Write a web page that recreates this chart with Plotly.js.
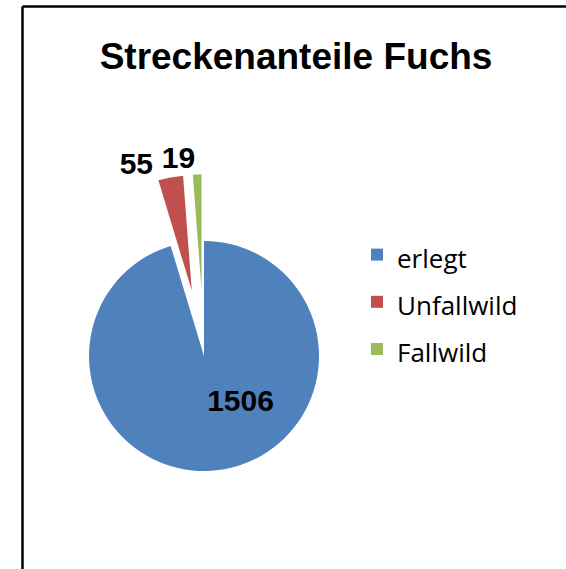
<!DOCTYPE html>
<html>
<head>
<meta charset="utf-8">
<script src="https://cdn.plot.ly/plotly-3.0.1.min.js"></script>
<style>
  html, body { margin: 0; padding: 0; background: #fff; }
  #chart { width: 566px; height: 569px; }
</style>
</head>
<body>
<div id="chart"></div>
<script>
// Streckenanteile Fuchs
var labels = ['erlegt', 'Unfallwild', 'Fallwild'];
var values = [1506, 55, 19];
var colors = ['#4F81BD', '#C0504D', '#9BBB59'];
var pulls = [0, 0.58, 0.58];

var valueFont = { family: 'Liberation Sans, Arial, sans-serif', size: 30, color: '#000', weight: 'bold' };
var pieDomain = { x: [0.0394, 0.6815], y: [0.055, 0.6937] };

// legend row height comes from legend.font.size, the text itself is smaller
var legendLabels = labels.map(function(l) {
    return '<span style="font-size:26px">' + l + '</span>';
});

// visible pie, no text
var pie = {
    type: 'pie',
    labels: legendLabels,
    values: values,
    sort: false,
    direction: 'clockwise',
    rotation: 0,
    pull: pulls,
    marker: { colors: colors, line: { width: 0 } },
    textinfo: 'none',
    domain: pieDomain,
    hoverinfo: 'label+value'
};

// transparent copies of the pie, each one carries a single value label.
// a small rotation moves the label where excel put it (and stops plotly
// from stacking the 55 and 19 on top of each other)
function labelTrace(idx, pos, rot) {
    var tp = values.map(function(v, i) { return i === idx ? pos : 'none'; });
    return {
        type: 'pie',
        labels: legendLabels,
        values: values,
        sort: false,
        direction: 'clockwise',
        rotation: rot,
        pull: pulls,
        marker: { colors: values.map(function() { return 'rgba(0,0,0,0)'; }), line: { width: 0 } },
        textinfo: 'value',
        textposition: tp,
        textfont: valueFont,
        insidetextorientation: 'horizontal',
        domain: pieDomain,
        showlegend: false,
        hoverinfo: 'skip'
    };
}

var data = [
    pie,
    labelTrace(0, 'inside', -31),
    labelTrace(1, 'outside', -3),
    labelTrace(2, 'outside', 2)
];

var layout = {
    width: 566,
    height: 569,
    margin: { l: 0, r: 0, t: 0, b: 0 },
    paper_bgcolor: '#fff',
    title: {
        text: 'Streckenanteile Fuchs',
        font: { family: 'Liberation Sans, Arial, sans-serif', size: 37, color: '#000', weight: 'bold' },
        x: 0.523,
        xanchor: 'center',
        xref: 'container',
        y: 1 - 56 / 569,
        yanchor: 'middle',
        yref: 'container'
    },
    showlegend: true,
    legend: {
        x: 357 / 566,
        xanchor: 'left',
        y: 1 - 226 / 569,
        yanchor: 'top',
        font: { family: 'Open Sans, sans-serif', size: 34, color: '#000' },
        bgcolor: 'rgba(0,0,0,0)'
    },
    shapes: [
        { type: 'line', xref: 'paper', yref: 'paper', x0: 22.5 / 566, x1: 22.5 / 566, y0: -0.05, y1: 1 - 6.5 / 569, line: { color: '#000', width: 2.5 } },
        { type: 'line', xref: 'paper', yref: 'paper', x0: 22.5 / 566, x1: 1.05, y0: 1 - 6.5 / 569, y1: 1 - 6.5 / 569, line: { color: '#000', width: 2.5 } }
    ]
};

Plotly.newPlot('chart', data, layout, { displayModeBar: false, staticPlot: true });
</script>
</body>
</html>
